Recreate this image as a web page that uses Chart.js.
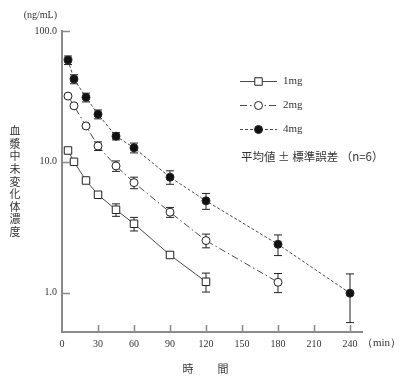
<!DOCTYPE html>
<html>
<head>
<meta charset="utf-8">
<script src="https://cdn.jsdelivr.net/npm/chart.js@4.4.1/dist/chart.umd.min.js"></script>
<style>
html,body{margin:0;padding:0;background:#fff;}
#wrap{width:400px;height:378px;position:relative;}
</style>
</head>
<body>
<div id="wrap"><canvas id="c" width="400" height="378"></canvas></div>
<script>
// ---- data ----
const times = [5, 10, 20, 30, 45, 60, 90, 120, 180, 240];
const mean1mg = [12.2, 10.0, 7.2, 5.6, 4.3, 3.36, 1.94, 1.21];
const se1mg   = [0.4, 0.3, 0.25, 0.2, 0.47, 0.4, 0.08, 0.2];
const mean2mg = [31.8, 26.8, 18.8, 13.2, 9.3, 6.93, 4.12, 2.5, 1.2];
const se2mg   = [1.0, 0.9, 0.6, 1.0, 0.85, 0.7, 0.36, 0.3, 0.2];
const mean4mg = [59.9, 42.9, 31.1, 23.1, 15.7, 12.8, 7.63, 5.03, 2.34, 0.99];
const se4mg   = [4.5, 3.4, 2.4, 1.8, 1.0, 1.1, 0.9, 0.7, 0.42, 0.4];
const seriesNames = ['1mg', '2mg', '4mg'];
const xTickValues = [0, 30, 60, 90, 120, 150, 180, 210, 240];
const yTickValues = [1, 10, 100];
const yTickLabels = ['1.0', '10.0', '100.0'];
const yUnit = '(ng/mL)';
const xUnit = '（min）';
const yTitle = '血漿中未変化体濃度';
const xTitle = ['時', '間'];
const note = '平均値 ± 標準誤差 （n=6）';

const serif = '"Liberation Serif", "DejaVu Serif", serif';
const cjk = '"Noto Sans CJK JP", sans-serif';
const lineCol = '#4a4a4a';
const axisCol = '#8a8a8a';
const textCol = '#333';

function pts(means){ return means.map((m,i)=>({x: times[i], y: m})); }
const seList = [se1mg, se2mg, se4mg];

const styles = [
  {dash: [], pointStyle: 'rect', radius: 5.3, fill: '#fff'},
  {dash: [7, 3, 1.5, 3], pointStyle: 'circle', radius: 4, fill: '#fff'},
  {dash: [3, 2], pointStyle: 'circle', radius: 4, fill: '#111'}
];

const datasets = [mean1mg, mean2mg, mean4mg].map((m, k) => ({
  label: seriesNames[k],
  data: pts(m),
  borderColor: lineCol,
  borderWidth: 1,
  borderDash: styles[k].dash,
  pointStyle: styles[k].pointStyle,
  pointRadius: styles[k].radius,
  pointBackgroundColor: styles[k].fill,
  pointBorderColor: '#222',
  pointBorderWidth: 1,
  tension: 0,
  fill: false
}));

const errorBars = {
  id: 'errorBars',
  beforeDatasetsDraw(chart){
    const {ctx, scales:{x, y}} = chart;
    ctx.save();
    ctx.strokeStyle = '#222';
    ctx.lineWidth = 1;
    chart.data.datasets.forEach((ds, k) => {
      ds.data.forEach((p, i) => {
        const se = seList[k][i];
        const px = x.getPixelForValue(p.x);
        const yh = y.getPixelForValue(p.y + se);
        const yl = y.getPixelForValue(p.y - se);
        ctx.beginPath();
        ctx.moveTo(px, yh); ctx.lineTo(px, yl);
        ctx.moveTo(px - 4, yh); ctx.lineTo(px + 4, yh);
        ctx.moveTo(px - 4, yl); ctx.lineTo(px + 4, yl);
        ctx.stroke();
      });
    });
    ctx.restore();
  }
};

const decor = {
  id: 'decor',
  afterDraw(chart){
    const {ctx, scales:{x, y}, chartArea:ca} = chart;
    ctx.save();
    // inward tick marks
    ctx.strokeStyle = axisCol;
    ctx.lineWidth = 1.5;
    ctx.beginPath();
    yTickValues.forEach(v => {
      const py = Math.round(y.getPixelForValue(v)) + 0.5;
      ctx.moveTo(ca.left, py); ctx.lineTo(ca.left + 8, py);
    });
    xTickValues.forEach(v => {
      if (v === 0) return;
      const px = Math.round(x.getPixelForValue(v)) + 0.5;
      ctx.moveTo(px, ca.bottom); ctx.lineTo(px, ca.bottom - 7);
    });
    ctx.stroke();

    ctx.fillStyle = textCol;
    // units
    ctx.font = '10px ' + serif;
    ctx.textAlign = 'right';
    ctx.textBaseline = 'middle';
    ctx.fillText(yUnit, 57, 15);
    ctx.textAlign = 'left';
    ctx.font = '11px ' + serif;
    ctx.fillText(xUnit, 362, ca.bottom + 11);
    // y title vertical
    ctx.font = '11px ' + cjk;
    ctx.textAlign = 'center';
    for (let i = 0; i < yTitle.length; i++) {
      ctx.fillText(yTitle[i], 15, 131 + i * 12.6);
    }
    // x title
    ctx.fillText(xTitle[0], 188, 369);
    ctx.fillText(xTitle[1], 223, 369);

    // legend
    const ly = [81, 105, 129];
    chart.data.datasets.forEach((ds, k) => {
      ctx.save();
      ctx.strokeStyle = lineCol;
      ctx.lineWidth = 1;
      ctx.setLineDash(styles[k].dash);
      ctx.beginPath();
      ctx.moveTo(240, ly[k] + 0.5); ctx.lineTo(277, ly[k] + 0.5);
      ctx.stroke();
      ctx.restore();
      ctx.save();
      ctx.fillStyle = styles[k].fill;
      ctx.strokeStyle = '#222';
      ctx.lineWidth = 1;
      Chart.helpers.drawPoint(ctx, {pointStyle: styles[k].pointStyle, radius: styles[k].radius, borderWidth: 1}, 258.5, ly[k] + 0.5);
      ctx.restore();
      ctx.fillStyle = textCol;
      ctx.font = '11px ' + serif;
      ctx.textAlign = 'left';
      ctx.fillText(ds.label, 283, ly[k]);
    });
    ctx.font = '11.5px ' + cjk;
    ctx.textAlign = 'left';
    ctx.fillText(note, 241, 157);
    ctx.restore();
  }
};

new Chart(document.getElementById('c'), {
  type: 'line',
  data: { datasets },
  options: {
    responsive: false,
    animation: false,
    layout: { padding: { top: 31, right: 38, left: 0, bottom: 0 } },
    plugins: { legend: { display: false }, tooltip: { enabled: false } },
    scales: {
      x: {
        type: 'linear', min: 0, max: 250,
        afterBuildTicks: s => { s.ticks = xTickValues.map(v => ({value: v})); },
        afterFit: s => { s.height = 46; },
        grid: { display: false, drawTicks: false },
        border: { display: true, color: axisCol, width: 2 },
        ticks: { color: textCol, font: { family: serif, size: 10 }, padding: 6, maxRotation: 0, autoSkip: false,
                 callback: v => String(v) }
      },
      y: {
        type: 'logarithmic', min: 0.5, max: 100,
        afterBuildTicks: s => { s.ticks = yTickValues.map(v => ({value: v})); },
        afterFit: s => { s.width = 62; },
        grid: { display: false, drawTicks: false },
        border: { display: true, color: axisCol, width: 2 },
        ticks: { color: textCol, font: { family: serif, size: 10 }, padding: 5, autoSkip: false,
                 callback: (v) => { const i = yTickValues.indexOf(v); return i >= 0 ? yTickLabels[i] : ''; } }
      }
    }
  },
  plugins: [errorBars, decor]
});
</script>
</body>
</html>
